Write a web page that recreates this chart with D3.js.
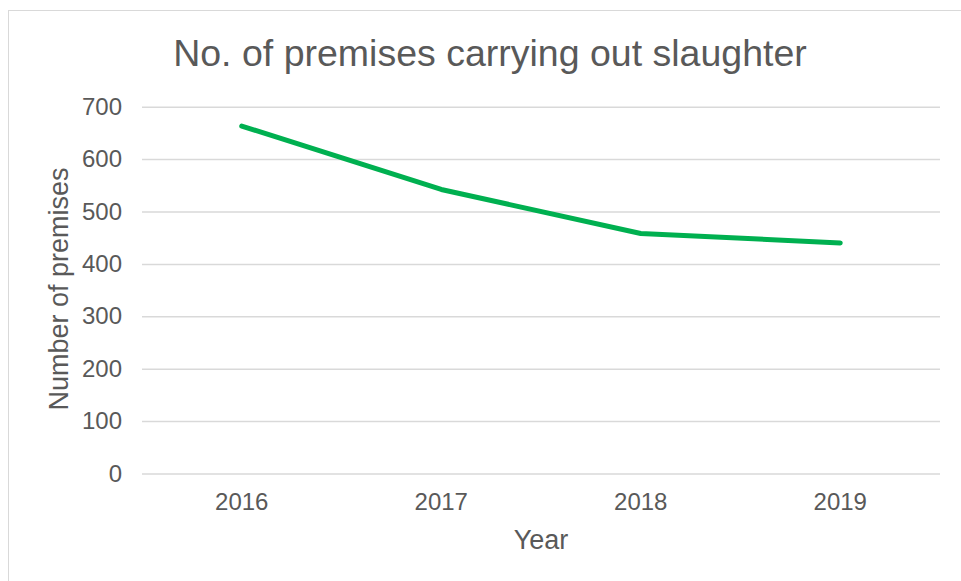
<!DOCTYPE html>
<html>
<head>
<meta charset="utf-8">
<script src="https://cdn.jsdelivr.net/npm/d3@7"></script>
<style>
  html, body { margin: 0; padding: 0; background: #fff; }
  svg { display: block; font-family: "Liberation Sans", Arial, sans-serif; }
</style>
</head>
<body>
<svg id="chart" width="961" height="581"></svg>
<script>
const years = ["2016", "2017", "2018", "2019"];
const premises = [663, 542, 458, 440];
const yTicks = [0, 100, 200, 300, 400, 500, 600, 700];
const titleText = "No. of premises carrying out slaughter";
const xTitle = "Year";
const yTitle = "Number of premises";

const svg = d3.select("#chart");
const W = 961, H = 581;
const margin = { left: 142, right: 21, top: 106.7, bottom: 107.5 };
const textColor = "#595959";

svg.append("rect")
  .attr("x", 8.5).attr("y", 10.5)
  .attr("width", W).attr("height", H)
  .attr("fill", "#fff").attr("stroke", "#d9d9d9").attr("stroke-width", 1);

const x = d3.scaleBand().domain(years).range([margin.left, W - margin.right]);
const y = d3.scaleLinear().domain([0, 700]).range([H - margin.bottom, margin.top]);

// gridlines
const yAxis = d3.axisLeft(y).tickValues(yTicks).tickSize(-(W - margin.right - margin.left)).tickPadding(20);
const gy = svg.append("g").attr("transform", `translate(${margin.left},0)`).call(yAxis);
gy.select(".domain").remove();
gy.selectAll(".tick line").attr("stroke", "#d9d9d9").attr("stroke-width", 1.5);
gy.selectAll(".tick text").attr("fill", textColor).style("font-size", "24px")
  .style("font-family", "Liberation Sans, Arial, sans-serif");

const xAxis = d3.axisBottom(x).tickSize(0).tickPadding(19);
const gx = svg.append("g").attr("transform", `translate(0,${H - margin.bottom})`).call(xAxis);
gx.select(".domain").remove();
gx.selectAll(".tick text").attr("fill", textColor).style("font-size", "24px")
  .style("font-family", "Liberation Sans, Arial, sans-serif");

// line
const line = d3.line()
  .x((d, i) => x(years[i]) + x.bandwidth() / 2)
  .y(d => y(d));
svg.append("path")
  .datum(premises)
  .attr("d", line)
  .attr("fill", "none")
  .attr("stroke", "#00b050")
  .attr("stroke-width", 5)
  .attr("stroke-linecap", "round")
  .attr("stroke-linejoin", "round");

// title
svg.append("text")
  .attr("x", 490).attr("y", 66)
  .attr("text-anchor", "middle")
  .attr("fill", textColor)
  .style("font-size", "37.5px")
  .text(titleText);

svg.append("text")
  .attr("x", 541).attr("y", 549)
  .attr("text-anchor", "middle")
  .attr("fill", textColor)
  .style("font-size", "27px")
  .text(xTitle);

svg.append("text")
  .attr("transform", "translate(68,289) rotate(-90)")
  .attr("text-anchor", "middle")
  .attr("fill", textColor)
  .style("font-size", "27px")
  .text(yTitle);
</script>
</body>
</html>
